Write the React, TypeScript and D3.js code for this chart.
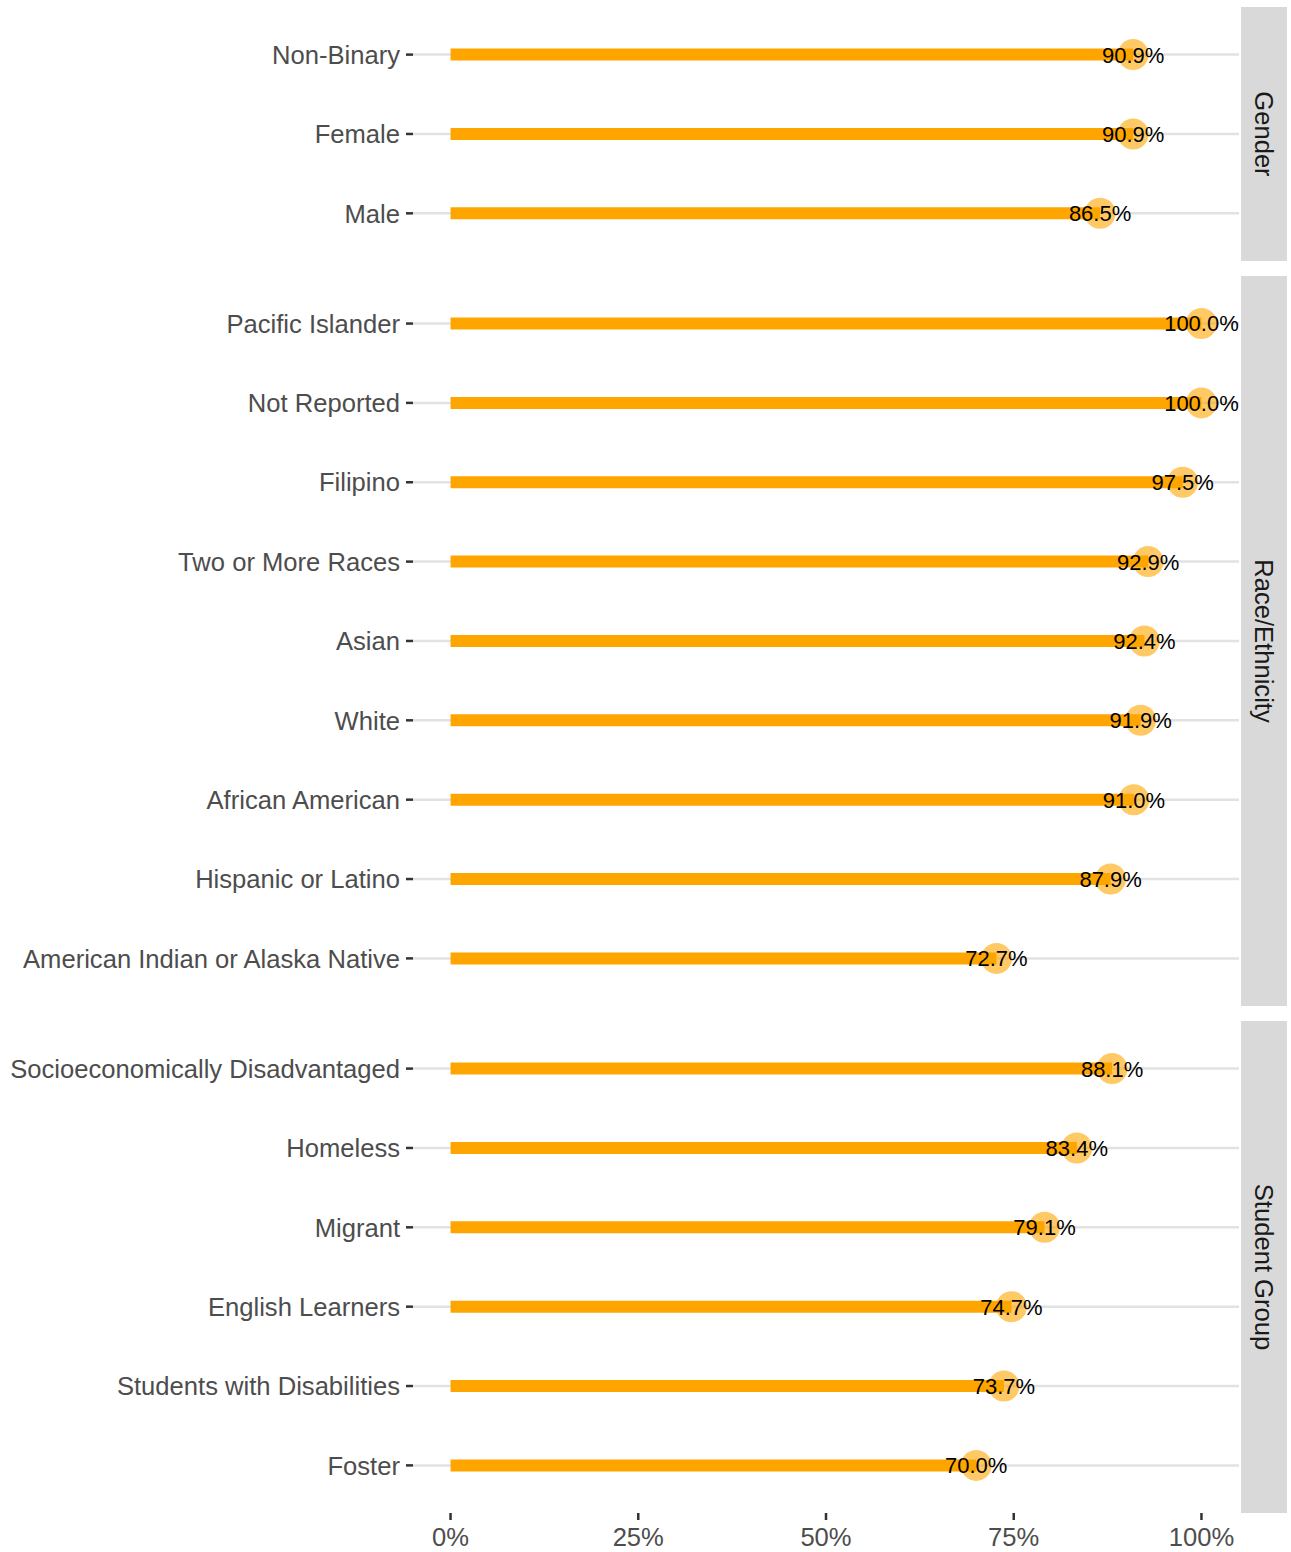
import React from 'react'
import * as d3 from 'd3'

const genderGroups = ['Non-Binary', 'Female', 'Male']
const genderValues = [90.9, 90.9, 86.5]

const raceGroups = [
  'Pacific Islander',
  'Not Reported',
  'Filipino',
  'Two or More Races',
  'Asian',
  'White',
  'African American',
  'Hispanic or Latino',
  'American Indian or Alaska Native',
]
const raceValues = [100.0, 100.0, 97.5, 92.9, 92.4, 91.9, 91.0, 87.9, 72.7]

const studentGroups = [
  'Socioeconomically Disadvantaged',
  'Homeless',
  'Migrant',
  'English Learners',
  'Students with Disabilities',
  'Foster',
]
const studentValues = [88.1, 83.4, 79.1, 74.7, 73.7, 70.0]

const facetNames = ['Gender', 'Race/Ethnicity', 'Student Group']
const xTicks = [0, 25, 50, 75, 100]

const W = 1291
const H = 1552
const FONT = '"Liberation Sans", Arial, Helvetica, sans-serif'

const App = () => {
  const panelLeft = 413
  const panelRight = 1239
  const top = 7
  const bottom = 1513
  const gap = 15
  const stripX = 1241
  const stripW = 46

  const facets = [
    { name: facetNames[0], groups: genderGroups, values: genderValues },
    { name: facetNames[1], groups: raceGroups, values: raceValues },
    { name: facetNames[2], groups: studentGroups, values: studentValues },
  ]

  // free space: panel height proportional to (n - 1 + 1.2)
  const units = facets.map(f => f.groups.length - 1 + 1.2)
  const unit = (bottom - top - gap * (facets.length - 1)) / d3.sum(units)

  const x = d3.scaleLinear().domain([-5, 105]).range([panelLeft, panelRight])

  let cursor = top
  const panels = facets.map((f, i) => {
    const h = units[i] * unit
    const y = d3.scalePoint<string>().domain(f.groups).range([cursor, cursor + h]).padding(0.6)
    const p = { ...f, y0: cursor, y1: cursor + h, y }
    cursor += h + gap
    return p
  })

  return (
    <svg width={W} height={H} style={{ position: 'absolute', left: 0, top: 0 }} fontFamily={FONT}>
      <rect width={W} height={H} fill="#fff" />
      {panels.map(p => (
        <g key={p.name}>
          {p.groups.map(g => (
            <line key={'grid' + g} x1={panelLeft} x2={panelRight} y1={p.y(g)} y2={p.y(g)}
              stroke="#e2e2e2" strokeWidth={2.5} />
          ))}
          {p.groups.map((g, i) => (
            <line key={'bar' + g} x1={x(0)} x2={x(p.values[i])} y1={p.y(g)} y2={p.y(g)}
              stroke="#FFA500" strokeWidth={12} />
          ))}
          {p.groups.map((g, i) => (
            <circle key={'pt' + g} cx={x(p.values[i])} cy={p.y(g)} r={15.5}
              fill="#FFA500" fillOpacity={0.6} />
          ))}
          {p.groups.map((g, i) => (
            <text key={'lab' + g} x={x(p.values[i])} y={p.y(g)} dy="0.36em"
              textAnchor="middle" fontSize={22} fill="#000">
              {p.values[i].toFixed(1) + '%'}
            </text>
          ))}
          {p.groups.map(g => (
            <g key={'yt' + g}>
              <line x1={panelLeft - 7} x2={panelLeft} y1={p.y(g)} y2={p.y(g)} stroke="#333" strokeWidth={2.5} />
              <text x={panelLeft - 13} y={p.y(g)} dy="0.36em" textAnchor="end" fontSize={25.6} fill="#4d4d4d">
                {g}
              </text>
            </g>
          ))}
          <rect x={stripX} y={p.y0} width={stripW} height={p.y1 - p.y0} fill="#d9d9d9" />
          <text transform={`translate(${stripX + stripW / 2},${(p.y0 + p.y1) / 2}) rotate(90)`}
            dy="0.36em" textAnchor="middle" fontSize={25.6} fill="#1a1a1a">
            {p.name}
          </text>
        </g>
      ))}
      {xTicks.map(t => (
        <g key={'xt' + t}>
          <line x1={x(t)} x2={x(t)} y1={bottom} y2={bottom + 7} stroke="#333" strokeWidth={2.5} />
          <text x={x(t)} y={bottom + 24} dy="0.36em" textAnchor="middle" fontSize={25.6} fill="#4d4d4d">
            {t + '%'}
          </text>
        </g>
      ))}
    </svg>
  )
}

export default App
